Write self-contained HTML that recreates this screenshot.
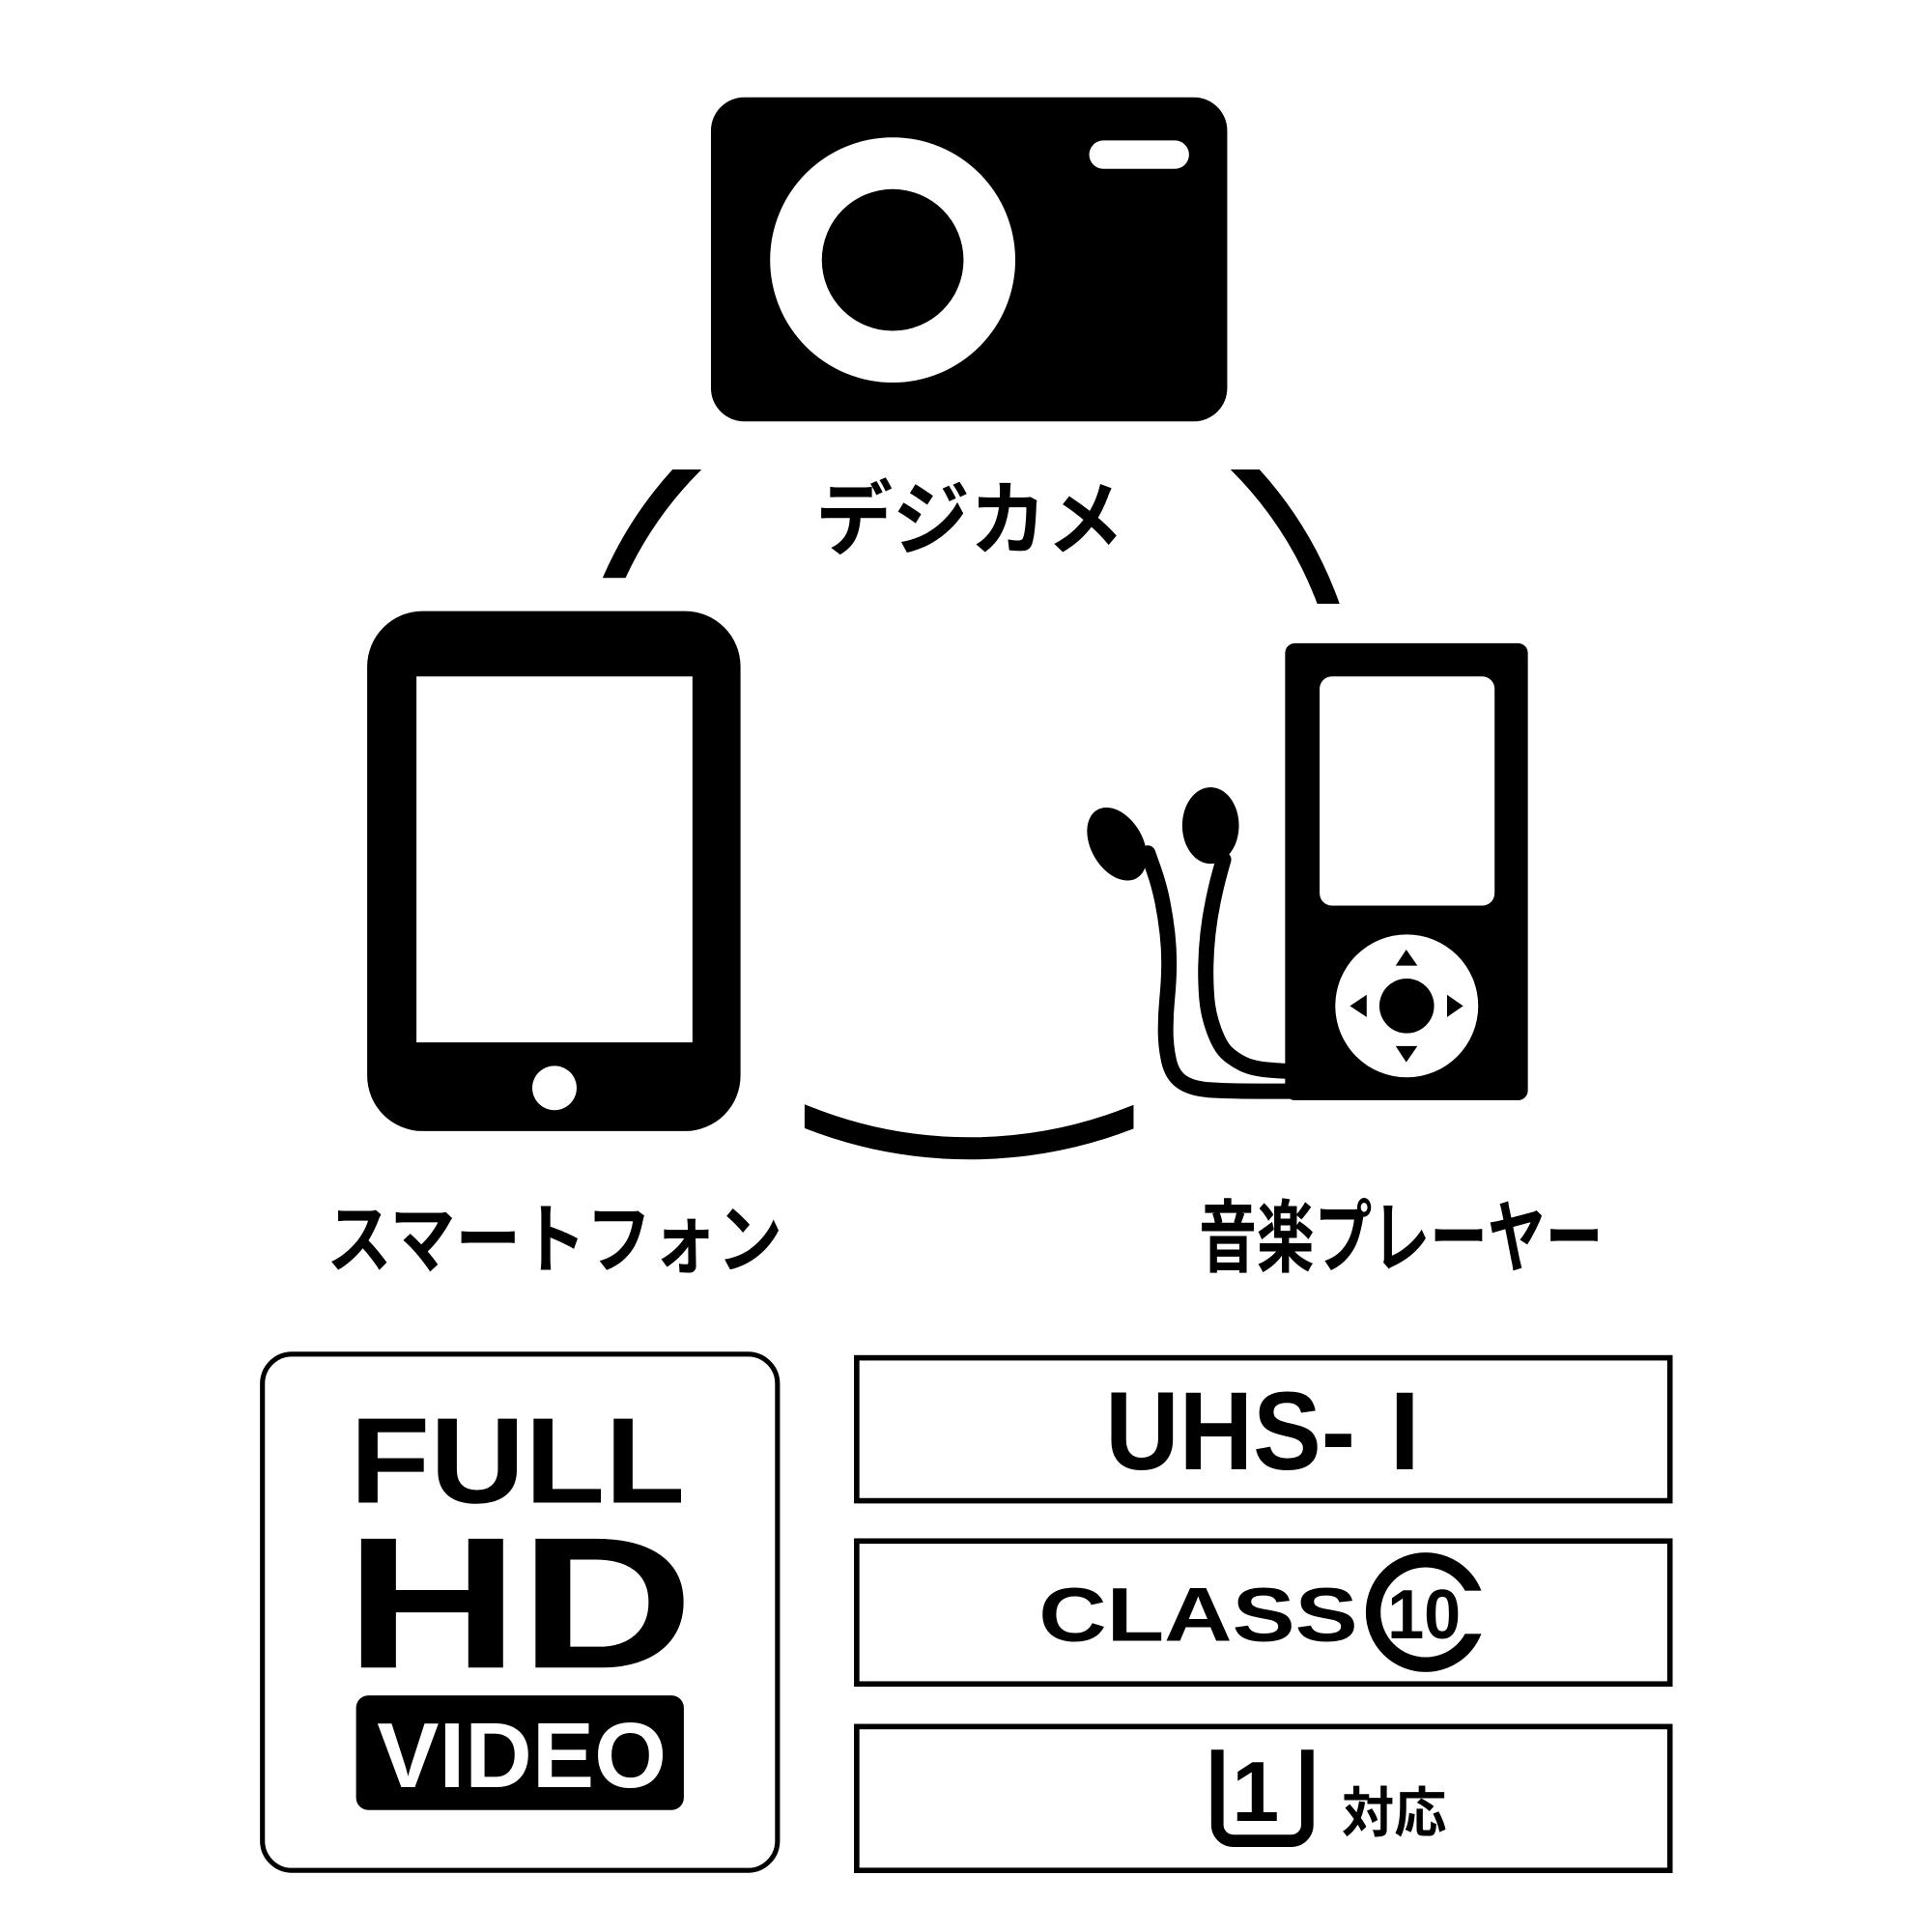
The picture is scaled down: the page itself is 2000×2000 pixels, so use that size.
<!DOCTYPE html>
<html><head><meta charset="utf-8"><style>html,body{margin:0;padding:0;background:#fff}svg{display:block}</style></head>
<body>
<svg width="2000" height="2000" viewBox="0 0 1568 1568" xmlns="http://www.w3.org/2000/svg">
<defs>
<clipPath id="cl"><rect x="400" y="381" width="300" height="88"/></clipPath>
<clipPath id="cr"><rect x="880" y="381" width="300" height="109"/></clipPath>
<clipPath id="cb"><rect x="653" y="850" width="267" height="120"/></clipPath>
</defs>
<rect width="1568" height="1568" fill="#fff"/>

<!-- camera -->
<rect x="577" y="79" width="419" height="263" rx="27" fill="#000"/>
<circle cx="724.5" cy="211" r="99.5" fill="#fff"/>
<circle cx="724.5" cy="211" r="57.5" fill="#000"/>
<rect x="884" y="114" width="81" height="23" rx="11.5" fill="#fff"/>

<!-- arcs -->
<circle cx="784" cy="597" r="313" fill="none" stroke="#000" stroke-width="17" clip-path="url(#cl)"/>
<circle cx="784" cy="597" r="313" fill="none" stroke="#000" stroke-width="17" clip-path="url(#cr)"/>
<circle cx="787" cy="574" r="358" fill="none" stroke="#000" stroke-width="18" clip-path="url(#cb)"/>

<!-- labels -->
<g font-family="'Liberation Sans','Noto Sans CJK JP',sans-serif" font-weight="bold" fill="#000">
<text x="662" y="445" font-size="66" textLength="250" lengthAdjust="spacingAndGlyphs">デジカメ</text>
<text x="265" y="1028" font-size="62" textLength="370" lengthAdjust="spacingAndGlyphs">スマートフォン</text>
<text x="973" y="1027" font-size="64" textLength="328" lengthAdjust="spacingAndGlyphs">音楽プレーヤー</text>
</g>

<!-- smartphone -->
<rect x="298" y="496" width="303" height="422" rx="45" fill="#000"/>
<rect x="338" y="549" width="224" height="297" fill="#fff"/>
<circle cx="450" cy="883" r="18" fill="#fff"/>

<!-- music player -->
<rect x="1043" y="522" width="197" height="371" rx="8" fill="#000"/>
<rect x="1071" y="549" width="142" height="186" rx="10" fill="#fff"/>
<circle cx="1141.7" cy="816.4" r="58" fill="#fff"/>
<circle cx="1141.7" cy="816.4" r="22.2" fill="#000"/>
<polygon points="1141.3,770.7 1132.7,783.7 1150.4,783.7" fill="#000"/>
<polygon points="1141.3,862.1 1132.7,849 1150.4,849" fill="#000"/>
<polygon points="1095.6,816.4 1109.2,807.3 1109.2,825.5" fill="#000"/>
<polygon points="1187.5,816.4 1174.4,807.3 1174.4,825.5" fill="#000"/>

<!-- earphones -->
<ellipse cx="906.5" cy="685" rx="21" ry="32" transform="rotate(-30 906.5 685)" fill="#000"/>
<ellipse cx="982.5" cy="670" rx="23" ry="31" fill="#000"/>
<path d="M931.6,692.4 L936.2,705.45 Q940.8,718.5 943.4,731.55 Q946,744.6 947.45,757.65 Q948.9,770.7 948.75,783.75 Q948.6,796.8 947.3,809.85 Q946,822.9 946,835.95 Q946,849 948.6,860.75 Q951.2,872.5 959.05,878 Q966.9,883.5 981.25,884.55 Q995.6,885.6 1020.4,885.6 L1046,885.6" fill="none" stroke="#000" stroke-width="12.5" stroke-linecap="round"/>
<path d="M993,697.6 L990.1,708.05 Q987.2,718.5 984.5,731.55 Q981.8,744.6 980.35,757.65 Q978.9,770.7 978.65,783.75 Q978.4,796.8 979.4,809.85 Q980.4,822.9 985.15,835.95 Q989.9,849 995.35,854.25 Q1000.8,859.5 1008.65,863.4 Q1016.5,867.3 1029.55,868.35 Q1042.6,869.4 1046,869.4" fill="none" stroke="#000" stroke-width="12.5" stroke-linecap="round"/>

<!-- FULL HD VIDEO badge -->
<rect x="213" y="1099" width="418" height="419" rx="24" fill="none" stroke="#000" stroke-width="4"/>
<g font-family="'Liberation Sans',sans-serif" font-weight="bold" fill="#000">
<text x="284" y="1219.5" font-size="99" textLength="272" lengthAdjust="spacingAndGlyphs">FULL</text>
<text x="280" y="1353.4" font-size="152" textLength="283" lengthAdjust="spacingAndGlyphs">HD</text>
</g>
<rect x="289" y="1376" width="266" height="93" rx="10" fill="#000"/>
<text x="306" y="1450.3" font-family="'Liberation Sans',sans-serif" font-weight="bold" font-size="75" fill="#fff" textLength="235" lengthAdjust="spacingAndGlyphs">VIDEO</text>

<!-- right boxes -->
<rect x="695.3" y="1102" width="660" height="116" fill="none" stroke="#000" stroke-width="4.4"/>
<rect x="695.3" y="1250.7" width="660" height="116" fill="none" stroke="#000" stroke-width="4.4"/>
<rect x="695.3" y="1401.3" width="660" height="116.7" fill="none" stroke="#000" stroke-width="4.4"/>

<g font-family="'Liberation Sans',sans-serif" font-weight="bold" fill="#000">
<text x="897" y="1192.5" font-size="90.5" textLength="203" lengthAdjust="spacingAndGlyphs">UHS-</text>
<text x="1127.5" y="1192.5" font-size="90.5">I</text>
<text x="843" y="1331.6" font-size="62" textLength="259" lengthAdjust="spacingAndGlyphs">CLASS</text>
<text x="1126" y="1329.8" font-size="57" textLength="59.5" lengthAdjust="spacingAndGlyphs">10</text>
<text x="1019" y="1478" font-size="69" text-anchor="middle">1</text>
</g>
<circle cx="1157" cy="1308.5" r="42.5" fill="none" stroke="#000" stroke-width="12"/>
<rect x="1187" y="1291" width="30" height="35" fill="#fff"/>

<path d="M988,1420 L988,1481 A13,13 0 0 0 1001,1494 L1048,1494 A13,13 0 0 0 1061,1481 L1061,1420" fill="none" stroke="#000" stroke-width="10"/>
<text x="1089" y="1487" font-family="'Liberation Sans','Noto Sans CJK JP',sans-serif" font-weight="bold" font-size="44" fill="#000" textLength="85" lengthAdjust="spacingAndGlyphs">対応</text>
</svg>
</body></html>
